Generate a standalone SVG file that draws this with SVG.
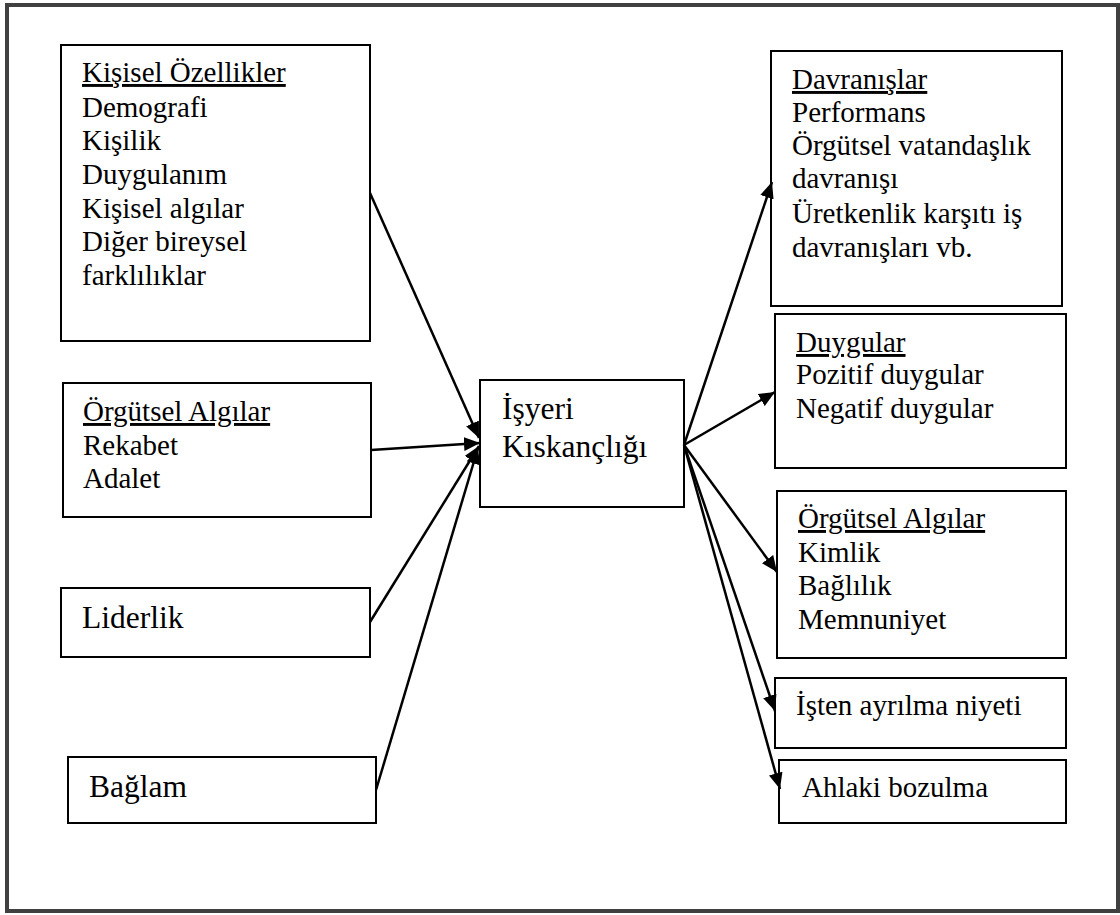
<svg xmlns="http://www.w3.org/2000/svg" width="1120" height="915" viewBox="0 0 1120 915">
  <style>
    .frame { fill: #ffffff; stroke: #404040; stroke-width: 4; }
    .box { fill: #ffffff; stroke: #000000; stroke-width: 2; }
    .t { font-family: "Liberation Serif", "Times New Roman", serif; font-size: 29px; fill: #000000; }
    .big { font-size: 31.5px; }
    .u { text-decoration: underline; }
    .link { fill: none; stroke: #000000; stroke-width: 2.5; marker-end: url(#head); }
  </style>
  <defs>
    <marker id="head" markerUnits="userSpaceOnUse" markerWidth="17" markerHeight="14" refX="16" refY="7" orient="auto">
      <path d="M0,0 L16,7 L0,14 Z" fill="#000000"/>
    </marker>
  </defs>

  <rect class="frame" x="7" y="5" width="1111" height="906"/>

  <!-- inputs -->
  <g id="kisisel-ozellikler">
    <rect class="box" x="61" y="45" width="309" height="296"/>
    <text class="t" x="82" y="82"><tspan class="u">Kişisel Özellikler</tspan></text>
    <text class="t" x="82" y="117">Demografi</text>
    <text class="t" x="82" y="150">Kişilik</text>
    <text class="t" x="82" y="184">Duygulanım</text>
    <text class="t" x="82" y="218">Kişisel algılar</text>
    <text class="t" x="82" y="251">Diğer bireysel</text>
    <text class="t" x="82" y="285">farklılıklar</text>
  </g>

  <g id="orgutsel-algilar-in">
    <rect class="box" x="63" y="383" width="308" height="134"/>
    <text class="t" x="83" y="421"><tspan class="u">Örgütsel Algılar</tspan></text>
    <text class="t" x="83" y="455">Rekabet</text>
    <text class="t" x="83" y="488">Adalet</text>
  </g>

  <g id="liderlik">
    <rect class="box" x="61" y="588" width="309" height="69"/>
    <text class="t big" x="82" y="628">Liderlik</text>
  </g>

  <g id="baglam">
    <rect class="box" x="68" y="757" width="308" height="66"/>
    <text class="t big" x="89" y="797">Bağlam</text>
  </g>

  <!-- centre -->
  <g id="isyeri-kiskancligi">
    <rect class="box" x="480" y="380" width="204" height="127"/>
    <text class="t big" x="502" y="419">İşyeri</text>
    <text class="t big" x="502" y="457">Kıskançlığı</text>
  </g>

  <!-- outcomes -->
  <g id="davranislar">
    <rect class="box" x="771" y="51" width="291" height="255"/>
    <text class="t" x="792" y="89"><tspan class="u">Davranışlar</tspan></text>
    <text class="t" x="792" y="122">Performans</text>
    <text class="t" x="792" y="155">Örgütsel vatandaşlık</text>
    <text class="t" x="792" y="188">davranışı</text>
    <text class="t" x="792" y="223">Üretkenlik karşıtı iş</text>
    <text class="t" x="792" y="257">davranışları vb.</text>
  </g>

  <g id="duygular">
    <rect class="box" x="775" y="314" width="291" height="154"/>
    <text class="t" x="796" y="352"><tspan class="u">Duygular</tspan></text>
    <text class="t" x="796" y="384">Pozitif duygular</text>
    <text class="t" x="796" y="418">Negatif duygular</text>
  </g>

  <g id="orgutsel-algilar-out">
    <rect class="box" x="777" y="491" width="289" height="167"/>
    <text class="t" x="798" y="528"><tspan class="u">Örgütsel Algılar</tspan></text>
    <text class="t" x="798" y="562">Kimlik</text>
    <text class="t" x="798" y="595">Bağlılık</text>
    <text class="t" x="798" y="629">Memnuniyet</text>
  </g>

  <g id="isten-ayrilma">
    <rect class="box" x="775" y="678" width="291" height="70"/>
    <text class="t" x="796" y="715">İşten ayrılma niyeti</text>
  </g>

  <g id="ahlaki-bozulma">
    <rect class="box" x="779" y="760" width="287" height="63"/>
    <text class="t" x="802" y="797">Ahlaki bozulma</text>
  </g>

  <!-- connectors -->
  <g id="connectors">
    <line class="link" x1="370" y1="193" x2="479" y2="438"/>
    <line class="link" x1="371" y1="450" x2="480" y2="443"/>
    <line class="link" x1="370" y1="622" x2="479" y2="446"/>
    <line class="link" x1="376" y1="790" x2="478" y2="448"/>
    <line class="link" x1="684" y1="445" x2="772" y2="182"/>
    <line class="link" x1="684" y1="445" x2="775" y2="392"/>
    <line class="link" x1="684" y1="445" x2="777" y2="572"/>
    <line class="link" x1="684" y1="445" x2="775" y2="711"/>
    <line class="link" x1="684" y1="445" x2="780" y2="789"/>
  </g>
</svg>
